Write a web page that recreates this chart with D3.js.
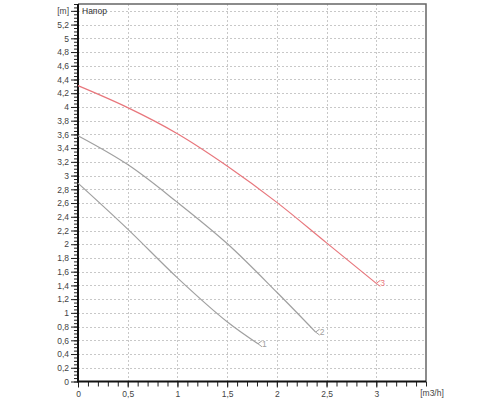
<!DOCTYPE html>
<html>
<head>
<meta charset="utf-8">
<script src="https://cdn.jsdelivr.net/npm/d3@7"></script>
<style>
  body { margin: 0; background: #fff; }
  text { font-family: "Liberation Sans", Arial, sans-serif; }
</style>
</head>
<body>
<div id="chart"></div>
<script>
// pump curves, head [m] vs flow [m3/h]
var curve1 = [[0, 2.89], [0.5, 2.22], [1.0, 1.51], [1.5, 0.87], [1.81, 0.55]];
var curve2 = [[0, 3.58], [0.5, 3.16], [1.0, 2.61], [1.5, 2.01], [2.0, 1.30], [2.39, 0.72]];
var curve3 = [[0, 4.31], [0.5, 3.99], [1.0, 3.61], [1.5, 3.14], [2.0, 2.61], [2.5, 2.02], [3.0, 1.43]];
var curveNames = ["1", "2", "3"];
var curveColors = ["#a0a0a0", "#a0a0a0", "#e8767c"];

var xMajor = [0, 0.5, 1, 1.5, 2, 2.5, 3];
var yMajor = d3.range(0, 28).map(function(i) { return +(i * 0.2).toFixed(1); });

var width = 500,
    height = 400;

var x = d3.scaleLinear().domain([0, 3.5]).range([78, 426]);
var y = d3.scaleLinear().domain([0, 5.5]).range([381.5, 4]);

var svg = d3.select("#chart")
    .append("svg")
    .attr("width", width)
    .attr("height", height);

var fmt = function(d) { return String(d).replace(".", ","); };

// grid
svg.append("g")
    .selectAll("line")
    .data(yMajor.filter(function(d) { return d > 0; }))
    .enter().append("line")
      .attr("x1", x(0)).attr("x2", x(3.5))
      .attr("y1", function(d) { return Math.round(y(d)) + 0.5; })
      .attr("y2", function(d) { return Math.round(y(d)) + 0.5; })
      .attr("stroke", "#c8c8c8")
      .attr("stroke-dasharray", "2,2");

svg.append("g")
    .selectAll("line")
    .data(xMajor.filter(function(d) { return d > 0; }))
    .enter().append("line")
      .attr("x1", function(d) { return Math.round(x(d)) + 0.5; })
      .attr("x2", function(d) { return Math.round(x(d)) + 0.5; })
      .attr("y1", y(5.5)).attr("y2", y(0))
      .attr("stroke", "#c8c8c8")
      .attr("stroke-dasharray", "2,2");

// frame top/right
svg.append("path")
    .attr("d", "M" + x(0) + "," + y(5.5) + "H" + x(3.5) + "V" + y(0))
    .attr("fill", "none")
    .attr("stroke", "#666")
    .attr("stroke-width", 1.5);

// y axis
var yAxisMinor = d3.axisLeft(y)
    .tickValues(d3.range(0, 111).map(function(i) { return i * 0.05; }))
    .tickSize(4)
    .tickFormat("");
svg.append("g")
    .attr("transform", "translate(" + x(0) + ",0)")
    .call(yAxisMinor)
    .call(function(g) { g.select(".domain").remove(); })
    .selectAll("line").attr("stroke", "#222");

var yAxis = d3.axisLeft(y)
    .tickValues(yMajor)
    .tickSize(7)
    .tickPadding(2)
    .tickFormat(function(d) { return d === 5.4 ? "[m]" : fmt(d); });
var gy = svg.append("g")
    .attr("transform", "translate(" + x(0) + ",0)")
    .call(yAxis);
gy.select(".domain").remove();
gy.selectAll("line").attr("stroke", "#222");
gy.selectAll("text").attr("font-size", 8.5).attr("fill", "#444").attr("font-family", "Liberation Sans, Arial, sans-serif");

// x axis
var xAxisMinor = d3.axisBottom(x)
    .tickValues(d3.range(0, 36).map(function(i) { return i * 0.1; }))
    .tickSize(5)
    .tickFormat("");
svg.append("g")
    .attr("transform", "translate(0," + y(0) + ")")
    .call(xAxisMinor)
    .call(function(g) { g.select(".domain").remove(); })
    .selectAll("line").attr("stroke", "#222");

var xAxis = d3.axisBottom(x)
    .tickValues(xMajor)
    .tickSize(6)
    .tickPadding(3)
    .tickFormat(fmt);
var gx = svg.append("g")
    .attr("transform", "translate(0," + y(0) + ")")
    .call(xAxis);
gx.select(".domain").remove();
gx.selectAll("line").attr("stroke", "#222");
gx.selectAll("text").attr("font-size", 8.5).attr("fill", "#444").attr("font-family", "Liberation Sans, Arial, sans-serif");

// axis lines
svg.append("path")
    .attr("d", "M" + x(0) + "," + y(5.5) + "V" + y(0) + "H" + x(3.5))
    .attr("fill", "none")
    .attr("stroke", "#111")
    .attr("stroke-width", 2);

svg.append("text")
    .attr("x", x(3.5) + 6)
    .attr("y", y(0) + 14)
    .attr("text-anchor", "middle")
    .attr("font-size", 8.5)
    .attr("fill", "#444")
    .text("[m3/h]");

svg.append("text")
    .attr("x", x(0) + 4)
    .attr("y", y(5.4) + 3)
    .attr("font-size", 8.5)
    .attr("fill", "#333")
    .text("Напор");

// curves
var line = d3.line()
    .x(function(d) { return x(d[0]); })
    .y(function(d) { return y(d[1]); })
    .curve(d3.curveCatmullRom.alpha(0.5));

var curves = [curve1, curve2, curve3];

var node = svg.selectAll(".curve")
    .data(curves)
    .enter().append("g")
      .attr("class", "curve");

node.append("path")
    .attr("d", line)
    .attr("fill", "none")
    .attr("stroke", function(d, i) { return curveColors[i]; })
    .attr("stroke-width", 1.2);

// end marker + label
node.append("path")
    .attr("d", function(d) {
      var e = d[d.length - 1], px = x(e[0]), py = y(e[1]);
      return "M" + (px + 4) + "," + (py - 3) + "L" + px + "," + py + "L" + (px + 4) + "," + (py + 3);
    })
    .attr("fill", "none")
    .attr("stroke", function(d, i) { return curveColors[i]; })
    .attr("stroke-width", 1);

node.append("text")
    .attr("x", function(d) { return x(d[d.length - 1][0]) + 4; })
    .attr("y", function(d) { return y(d[d.length - 1][1]) + 3; })
    .attr("font-size", 8.5)
    .attr("fill", function(d, i) { return curveColors[i]; })
    .text(function(d, i) { return curveNames[i]; });
</script>
</body>
</html>
